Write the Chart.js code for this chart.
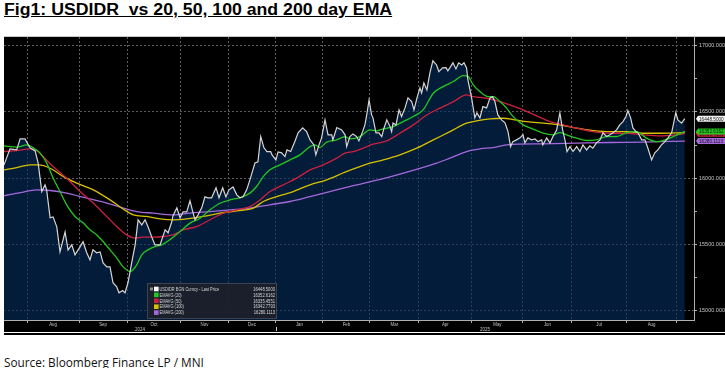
<!DOCTYPE html>
<html>
<head>
<meta charset="utf-8">
<script src="https://cdn.jsdelivr.net/npm/chart.js@4.4.1/dist/chart.umd.min.js"></script>
<style>
html,body{margin:0;padding:0;background:#fff;width:725px;height:368px;overflow:hidden;}
#title{position:absolute;left:4px;top:2px;font-weight:bold;font-size:16px;font-family:"Liberation Sans",Arial,sans-serif;line-height:16px;text-decoration:underline;white-space:pre;color:#000;transform:scaleX(1.105);transform-origin:0 0;}
#frame{position:absolute;left:4px;top:36px;width:721px;height:295px;background:#000;border-top:1px solid #c8c8c8;}
#wrap{position:absolute;left:4px;top:37px;width:721px;height:295px;}
#rule{position:absolute;left:4px;top:333px;width:721px;height:2px;background:#000;}
#src{position:absolute;left:4px;top:354px;font-size:11.8px;font-family:"Open Sans",sans-serif;color:#111;white-space:pre;}
</style>
</head>
<body>
<div id="title">Fig1: USDIDR  vs 20, 50, 100 and 200 day EMA</div>
<div id="frame"></div>
<div id="wrap"><canvas id="c" width="721" height="295"></canvas></div>
<div id="rule"></div>
<div id="src">Source: Bloomberg Finance LP / MNI</div>
<script>
// x = trading-day index (0 = 1 Aug 2024), y = USDIDR level
const monthStartDay = [0, 22.6, 43.4, 66.8, 87.2, 108, 128.4, 148.8, 170, 193, 215.2, 236.4, 260, 282];
const monthLabels = ['Aug','Sep','Oct','Nov','Dec','Jan','Feb','Mar','Apr','May','Jun','Jul','Aug'];
const yearBounds = [-10, 108, 289.4];
const yearLabels = ['2024', '2025'];
const yTickValues = [15000,15250,15500,15750,16000,16250,16500,16750,17000];

const pricePoints = [[-10,16100],[-7.4,16221],[-4.5,16213],[-3,16296],[-0.9,16296],[1.3,16229],[3.5,16206],[4.8,16115],[6.4,15899],[7.8,15950],[8.5,15912],[10,15701],[11.3,15708],[12.9,15633],[14.3,15444],[16.5,15595],[17.8,15459],[19.4,15497],[20.8,15422],[23,15482],[24.3,15520],[25.9,15437],[27.3,15384],[28.6,15459],[30.2,15437],[31.7,15444],[33,15361],[34.6,15331],[36,15331],[37.3,15211],[38.9,15180],[39.9,15135],[41.5,15152],[42.5,15135],[43.8,15211],[45.4,15361],[46.9,15497],[48.2,15686],[49.8,15648],[51.2,15686],[52.5,15633],[54.1,15557],[55.5,15497],[57.7,15497],[59.9,15610],[61.2,15588],[62.8,15671],[63.3,15715],[65,15776],[66.4,15701],[67.7,15746],[69.3,15746],[70.7,15829],[71.9,15748],[72.9,15686],[74.2,15723],[75.8,15776],[77.2,15859],[78.5,15852],[80.1,15852],[82,15927],[83.3,15852],[84.9,15927],[86.3,15859],[87.6,15912],[89.4,15934],[91,15874],[92.4,15852],[93.7,15859],[95.3,15912],[96.7,15987],[98.9,16115],[100.2,16123],[101.4,16314],[102.8,16229],[104.1,16201],[105.7,16201],[106.3,16176],[108,16138],[108.9,16198],[110.5,16191],[111.9,16163],[112.8,16213],[114.4,16201],[116.3,16281],[117.6,16342],[119.6,16379],[121.3,16351],[122.8,16289],[124.5,16251],[125.3,16176],[126.7,16251],[127.8,16304],[129.3,16440],[130.6,16327],[132.2,16327],[132.7,16289],[134.4,16382],[136.5,16364],[138,16327],[138.7,16238],[140.1,16314],[141.4,16334],[143,16314],[144,16281],[145.6,16351],[146.6,16402],[147.4,16477],[148.4,16590],[149.5,16477],[150.1,16455],[151.4,16342],[152.7,16342],[153.9,16314],[154.9,16379],[156.1,16440],[157.5,16389],[158.2,16351],[158.8,16417],[160.1,16402],[161.4,16515],[162.5,16465],[164,16530],[165.3,16606],[166.9,16578],[167.9,16515],[169.2,16606],[170.5,16681],[171.2,16643],[172.2,16719],[173.5,16666],[174.8,16794],[176.1,16885],[177.7,16854],[178.7,16804],[180.3,16832],[181.8,16834],[182.6,16809],[183.8,16842],[184.8,16870],[186.1,16824],[187.3,16870],[188.6,16854],[189.6,16870],[190.7,16832],[191.3,16741],[192.9,16606],[194.3,16455],[195.2,16493],[196.5,16455],[197.8,16540],[199.4,16530],[200.9,16606],[202,16615],[203,16578],[204.3,16477],[205.9,16440],[207.4,16417],[208.7,16351],[209.8,16238],[210.8,16276],[212.4,16289],[213.9,16304],[215.2,16327],[216,16266],[217.3,16304],[218.9,16289],[220.4,16296],[221.7,16276],[223.3,16289],[223.8,16251],[225.5,16304],[226.9,16266],[228.2,16314],[229.8,16364],[231.2,16492],[232.4,16364],[233.4,16289],[234.3,16201],[235.6,16238],[236.9,16201],[238.5,16238],[239.9,16201],[241.2,16251],[242.8,16213],[244.2,16244],[245.5,16226],[247.1,16266],[248.6,16289],[249.9,16342],[251.5,16314],[252.9,16327],[254.2,16342],[255.8,16364],[257.2,16402],[258.6,16427],[259.9,16465],[260.7,16510],[261.9,16455],[262.9,16379],[264.2,16351],[265.1,16342],[266.7,16289],[268.1,16289],[269.4,16226],[271,16138],[272.4,16191],[273.7,16213],[275.3,16251],[276.8,16276],[278.1,16304],[279.7,16342],[280.7,16427],[281.5,16495],[282.4,16440],[284,16415],[285.4,16448.5]];

const ema20Points = [[-10,16244],[-4.5,16234],[-0.1,16251],[3.5,16219],[5.6,16191],[8.5,16115],[11.3,16002],[14.3,15899],[17.2,15799],[20.8,15711],[24.3,15663],[27.3,15610],[30.2,15573],[33,15522],[36,15459],[38.9,15399],[41.6,15333],[44.7,15296],[46,15309],[47.6,15346],[49.8,15422],[52.5,15459],[55.5,15484],[58.4,15497],[62,15535],[66.4,15597],[70.7,15661],[75.1,15698],[79.4,15761],[83.7,15811],[88.1,15836],[92.4,15854],[96.7,15887],[99.6,15937],[102.5,16012],[105.4,16063],[109.7,16100],[114.1,16138],[118.4,16176],[122.8,16238],[124.9,16251],[127.1,16231],[130,16272],[134.3,16289],[138,16314],[140.1,16296],[144.5,16314],[148.8,16364],[151.7,16357],[154.6,16372],[158.9,16389],[163.2,16427],[167.6,16465],[171.9,16515],[176.3,16641],[180.6,16691],[185,16729],[189.3,16774],[191.4,16766],[193.6,16704],[196.5,16653],[200.1,16615],[202.3,16615],[205.2,16578],[208.1,16528],[210.3,16477],[212.4,16440],[215.3,16402],[219.6,16370],[224,16339],[228.3,16327],[231.2,16344],[234.1,16327],[238.5,16302],[242.8,16284],[247.1,16289],[251.5,16314],[255.8,16314],[260.2,16344],[264.5,16351],[268.8,16302],[273.2,16276],[276,16284],[280.4,16314],[285.4,16352.6162]];

const ema50Points = [[-10,16201],[-4.5,16208],[1.3,16221],[4.2,16208],[6.9,16163],[11.3,16088],[17.2,16000],[23,15899],[28.6,15814],[34.6,15711],[38.9,15635],[43.2,15572],[46.9,15548],[50.3,15555],[54.7,15555],[59,15560],[63.3,15573],[67.8,15610],[73.6,15635],[79.4,15686],[85.2,15736],[91,15761],[96.7,15786],[101.1,15836],[105.4,15899],[111.2,15950],[117,16000],[122.8,16063],[128.5,16100],[134.4,16151],[138,16189],[141.6,16201],[145.9,16226],[150.2,16256],[156.1,16281],[161.8,16339],[167.6,16402],[173.4,16477],[179.2,16528],[185,16578],[190.7,16628],[193.6,16615],[199.4,16603],[205.2,16578],[209.5,16553],[215.3,16515],[221.1,16470],[226.9,16427],[232.7,16402],[238.5,16377],[245.7,16351],[252.9,16339],[260.2,16339],[267.3,16327],[274.6,16319],[281.8,16327],[285.4,16335.4551]];

const ema100Points = [[-10,16063],[-4.5,16080],[1.3,16100],[4.9,16100],[10,16075],[15.8,16012],[21.6,15962],[28.8,15912],[36,15836],[41.8,15766],[46.1,15723],[51.9,15711],[57.7,15693],[63.5,15686],[69.3,15693],[76.5,15711],[83.7,15736],[91,15754],[98.2,15774],[102.5,15824],[108.3,15861],[115.5,15899],[122.8,15950],[130,15987],[138,16045],[148.8,16113],[154.6,16138],[161.8,16176],[169.1,16226],[176.3,16289],[183.5,16351],[190.7,16415],[195.1,16432],[200.9,16447],[206.6,16452],[211.7,16440],[216.8,16427],[224,16415],[231.2,16402],[238.5,16377],[245.7,16359],[252.9,16351],[260.2,16351],[267.3,16339],[274.6,16339],[285.4,16342.7793]];

const ema200Points = [[-10,15867],[-3,15891],[4.2,15912],[10,15907],[17.2,15887],[25.9,15849],[34.6,15812],[41.8,15774],[47.6,15748],[54.8,15736],[63.5,15723],[70.7,15736],[79.4,15748],[88.1,15761],[96.7,15774],[105.4,15799],[114.1,15824],[122.8,15861],[131.4,15899],[138,15929],[157.5,16010],[177.7,16113],[183.5,16151],[190.7,16201],[196.5,16221],[202.3,16231],[208.1,16251],[224,16259],[238.5,16264],[252.9,16269],[267.3,16272],[285.4,16280.1113]];

const seriesLabels = ['USDIDR BGN Curncy - Last Price','EMAVG (20)','EMAVG (50)','EMAVG (100)','EMAVG (200)'];

const FAM = '"Liberation Sans", Arial, sans-serif';
const GRID = '#5c5c5c';
const toXY = arr => arr.map(p => ({x: p[0], y: p[1]}));

const overlay = {
  id: 'overlay',
  afterDraw(chart) {
    const ctx = chart.ctx, ca = chart.chartArea, xs = chart.scales.x, ys = chart.scales.y;
    const dsets = chart.data.datasets;
    ctx.save();
    function txt(s, px, py, align, size, color, squeeze) {
      ctx.font = size + 'px ' + FAM;
      ctx.fillStyle = color; ctx.textAlign = align; ctx.textBaseline = 'middle';
      ctx.fillText(s, px, py, ctx.measureText(s).width * squeeze);
    }
    for (let i = 0; i < monthLabels.length; i++) {
      const mid = (monthStartDay[i] + monthStartDay[i + 1]) / 2;
      txt(monthLabels[i], xs.getPixelForValue(mid), ca.bottom + 4, 'center', 5.5, '#c4c4c4', 0.8);
    }
    for (let i = 0; i < yearLabels.length; i++) {
      const mid = (yearBounds[i] + yearBounds[i + 1]) / 2;
      txt(yearLabels[i], xs.getPixelForValue(mid), ca.bottom + 9.5, 'center', 5.5, '#c4c4c4', 0.8);
    }
    const sx = Math.round(xs.getPixelForValue(yearBounds[1])) + 0.5;
    ctx.strokeStyle = '#c4c4c4'; ctx.lineWidth = 1;
    ctx.beginPath(); ctx.moveTo(sx, ca.bottom + 7); ctx.lineTo(sx, ca.bottom + 11); ctx.stroke();

    const order = [3, 2, 1, 4, 0];
    order.forEach(i => {
      const d = dsets[i].data;
      const v = d[d.length - 1].y;
      const py = ys.getPixelForValue(v);
      const x0 = ca.right + 2, w = chart.width - x0, h = 6;
      ctx.fillStyle = i === 0 ? '#f4f4f4' : dsets[i].borderColor;
      ctx.beginPath();
      ctx.moveTo(x0 + 2, py - h / 2); ctx.lineTo(x0 + w, py - h / 2); ctx.lineTo(x0 + w, py + h / 2);
      ctx.lineTo(x0 + 2, py + h / 2); ctx.lineTo(x0, py); ctx.closePath(); ctx.fill();
      txt(v.toFixed(4), x0 + 3, py + 0.3, 'left', 5.5, '#111', 0.85);
    });

    const bx = 143, by = 246, bw = 130, bh = 36;
    ctx.fillStyle = 'rgba(28,32,42,0.92)';
    ctx.strokeStyle = '#3c424e'; ctx.lineWidth = 1;
    ctx.fillRect(bx, by, bw, bh); ctx.strokeRect(bx + 0.5, by + 0.5, bw - 1, bh - 1);
    ctx.fillStyle = '#8a8a8a'; ctx.fillRect(bx + 3, by + 4.5, 3, 3);
    for (let i = 0; i < dsets.length; i++) {
      const ry = by + 6 + i * 5.9;
      ctx.fillStyle = i === 0 ? '#ffffff' : dsets[i].borderColor;
      ctx.fillRect(bx + 7, ry - 2.3, 4.6, 4.6);
      txt(seriesLabels[i], bx + 12.5, ry + 0.2, 'left', 5.5, '#d8d8d8', 0.72);
      const d = dsets[i].data;
      txt(d[d.length - 1].y.toFixed(4), bx + bw - 2, ry + 0.2, 'right', 5.5, '#d8d8d8', 0.75);
    }
    ctx.restore();
  }
};

new Chart(document.getElementById('c').getContext('2d'), {
  type: 'line',
  data: {
    datasets: [
      {label: seriesLabels[0], data: toXY(pricePoints), borderColor: '#d6d6d6', borderWidth: 1.2,
       fill: 'start', backgroundColor: 'rgba(5,45,92,0.62)', pointRadius: 0, tension: 0},
      {label: seriesLabels[1], data: toXY(ema20Points), borderColor: '#22c81e', borderWidth: 1.3,
       fill: false, pointRadius: 0, cubicInterpolationMode: 'monotone'},
      {label: seriesLabels[2], data: toXY(ema50Points), borderColor: '#cc2040', borderWidth: 1.3,
       fill: false, pointRadius: 0, cubicInterpolationMode: 'monotone'},
      {label: seriesLabels[3], data: toXY(ema100Points), borderColor: '#d8c000', borderWidth: 1.3,
       fill: false, pointRadius: 0, cubicInterpolationMode: 'monotone'},
      {label: seriesLabels[4], data: toXY(ema200Points), borderColor: '#a468dc', borderWidth: 1.3,
       fill: false, pointRadius: 0, cubicInterpolationMode: 'monotone'}
    ]
  },
  options: {
    responsive: false, maintainAspectRatio: false, animation: false,
    layout: {padding: 0},
    plugins: {legend: {display: false}, tooltip: {enabled: false}, filler: {drawTime: 'beforeDatasetsDraw'}},
    scales: {
      x: {
        type: 'linear', min: yearBounds[0], max: yearBounds[2],
        afterBuildTicks: s => { s.ticks = monthStartDay.map(v => ({value: v})); },
        ticks: {display: false},
        grid: {color: GRID, lineWidth: 1, tickLength: 3, tickColor: '#b0b0b0'},
        border: {color: '#b0b0b0', width: 1, dash: [2, 2]},
        afterFit: s => { s.height = 12; s.paddingLeft = 0; s.paddingRight = 0; }
      },
      y: {
        type: 'linear', position: 'right', min: 14930, max: 17065,
        afterBuildTicks: s => { s.ticks = yTickValues.map(v => ({value: v})); },
        ticks: {
          callback: v => (v % 500 === 0 ? v.toFixed(4) : ''),
          color: '#c4c4c4', font: {size: 5.5, family: FAM}, padding: 2, autoSkip: false
        },
        grid: {
          color: c => (c.tick && c.tick.value % 500 === 0) ? GRID : 'rgba(0,0,0,0)',
          lineWidth: 1, tickLength: 3, tickColor: '#b0b0b0'
        },
        border: {color: '#b0b0b0', width: 1, dash: [2, 2]},
        afterFit: s => { s.width = 31; s.paddingTop = 0; s.paddingBottom = 0; }
      }
    }
  },
  plugins: [overlay]
});
</script>
</body>
</html>
